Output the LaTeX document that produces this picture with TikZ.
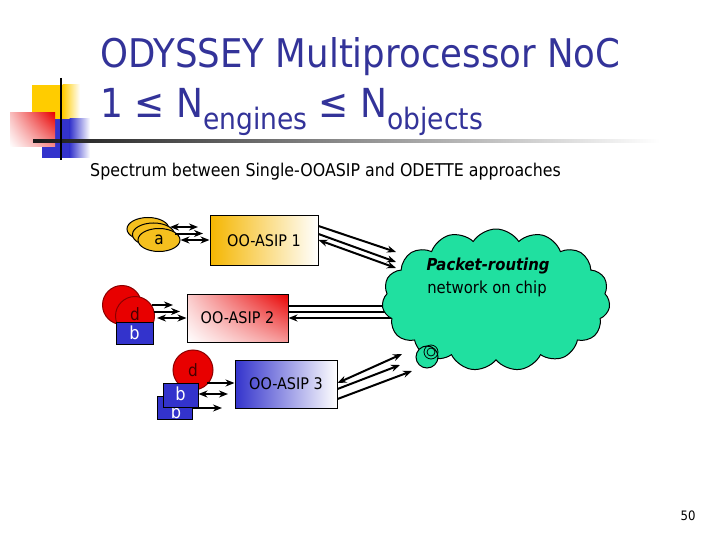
\documentclass[tikz,border=0pt]{standalone}
\usepackage{fontspec}
\setmainfont{DejaVu Sans}[FakeStretch=0.9]
\usetikzlibrary{shapes.geometric,shapes.symbols,arrows.meta,calc,shadings}
\definecolor{ttl}{RGB}{51,51,153}
\definecolor{gold}{RGB}{245,192,30}
\definecolor{asipy}{RGB}{245,182,0}
\definecolor{rd}{RGB}{232,0,0}
\definecolor{rdline}{RGB}{140,0,0}
\definecolor{bl}{RGB}{51,51,204}
\definecolor{noc}{RGB}{32,224,160}
\definecolor{decoy}{RGB}{255,204,0}
\definecolor{dtext}{RGB}{70,0,0}
\tikzset{
  txt/.style={inner sep=0pt},
  tip/.tip={Stealth[length=9pt,width=7pt]},
  arr/.style={line width=2pt,-tip},
  darr/.style={line width=2pt,tip-tip},
  larr/.style={line width=2pt,tip-},
  plain/.style={line width=2pt},
  asip/.style={draw, line width=1pt, inner sep=0pt, font=\fontsize{16}{18}\selectfont},
  aell/.style={ellipse, draw, line width=1pt, fill=gold, minimum width=42pt, minimum height=23pt, inner sep=0pt},
  dcirc/.style={circle, draw=rdline, line width=1pt, fill=rd, minimum size=39pt, inner sep=0pt, text=dtext, font=\fontsize{17}{19}\selectfont},
  bbox/.style={draw, line width=1pt, fill=bl, inner sep=0pt, text=white, font=\fontsize{18}{20}\selectfont},
}
\begin{document}
\begin{tikzpicture}[x=1pt,y=-1pt]
\useasboundingbox (0,0) rectangle (720,540);
\fill[white] (0,0) rectangle (720,540);
% decoration
\fill[decoy] (32,85) rectangle (63,120);
\shade[left color=decoy, right color=white] (62.5,85) rectangle (80,120);
\fill[bl] (42,119) rectangle (70,158);
\shade[left color=bl, right color=white] (69.5,119) rectangle (90,158);
\shade[upper right=rd, upper left=rd!25, lower right=rd!45, lower left=white] (10,113) rectangle (55,147);
\shade[left color=black!90, right color=white] (33,139.5) rectangle (660,142.5);
\draw[line width=2.5pt] (61,78) -- (61,160);
% titles
\node[txt, anchor=base west, text=ttl, font=\fontsize{39.5}{42}\selectfont] (t1) at (100,68) {ODYSSEY Multiprocessor NoC};
\node[txt, anchor=base west, text=ttl, font=\fontsize{40}{42}\selectfont] (t2) at (100,118)
  {1 ≤ N\raisebox{-12pt}{\fontsize{29.5}{31}\selectfont engines} ≤ N\raisebox{-12pt}{\fontsize{29.5}{31}\selectfont objects}};
\node[txt, anchor=base west, font=\fontsize{17.6}{19}\selectfont] (sub) at (90,177) {Spectrum between Single-OOASIP and ODETTE approaches};
% ASIP 1 group
\node[aell] (a3) at (148,229) {};
\node[aell] (a2) at (153.5,234.5) {};
\node[aell, font=\fontsize{17}{19}\selectfont] (a1) at (159,240) {a};
\node[asip, minimum width=108pt, minimum height=49pt, left color=asipy, right color=white] (p1) at (264,240.5) {OO-ASIP 1};
% ASIP 2 group
\node[dcirc] (d2b) at (122,305) {};
\node[dcirc, text depth=0pt, text height=9pt] (d2) at (135,316) {d};
\node[bbox, minimum width=37pt, minimum height=22pt] (b2) at (134.5,333) {b};
\node[asip, minimum width=101pt, minimum height=48pt, upper right=rd, upper left=rd!20, lower right=rd!40, lower left=white] (p2) at (237.5,318) {OO-ASIP 2};
% ASIP 3 group
\node[dcirc, minimum size=40pt] (d3) at (193,370) {d};
\node[bbox, minimum width=35pt, minimum height=23pt, anchor=south] (b3b) at (174.5,420) {};
\node[txt, text=white, font=\fontsize{18}{20}\selectfont, anchor=base] (b3bt) at (176,418.5) {b};
\node[bbox, minimum width=35pt, minimum height=24pt, text depth=0pt, text height=10pt] (b3) at (180.5,395) {b};
\node[asip, minimum width=102pt, minimum height=48pt, left color=bl, right color=white] (p3) at (286,384) {OO-ASIP 3};
% lines from ASIP 2 into the network (drawn under the cloud)
\coordinate (n2a) at (396,306);
\coordinate (n2b) at (396,312);
\coordinate (n2c) at (396,318);
\draw[plain] (p2.east |- n2a) -- (n2a);
\draw[plain] (p2.east |- n2b) -- (n2b);
\draw[larr] (p2.east |- n2c) -- (n2c);
% cloud
\node[cloud, draw, line width=1pt, fill=noc, cloud puffs=15, cloud puff arc=115, aspect=1.6,
      minimum width=228pt, minimum height=142pt, inner sep=0pt] (noc) at (496,300) {};
\node[circle, draw, line width=1pt, fill=noc, minimum size=22pt, inner sep=0pt] (bub) at (427,357) {};
\node[circle, draw, line width=0.8pt, minimum size=14pt, inner sep=0pt] (ring) at (431,352) {};
\node[circle, draw, line width=0.8pt, minimum size=8pt, inner sep=0pt] (ring2) at (431,352) {};
\node[txt, font=\fontsize{16.5}{18}\selectfont\bfseries\itshape] (nt1) at (488,266) {Packet-routing};
\node[txt, font=\fontsize{16.5}{18}\selectfont] (nt2) at (487,289) {network on chip};
% arrows a -> ASIP 1
\draw[darr] (170,227) -- (198,227);
\draw[arr] (175,233.5) -- (203,233.5);
\draw[darr] (a1.east) -- (a1.east -| p1.west);
% ASIP 1 -> network
\coordinate (n1a) at (396,252);
\coordinate (n1b) at (396,262);
\coordinate (n1c) at (396,268);
\draw[arr] (p1.east |- 0,226) -- (n1a);
\draw[arr] (p1.east |- 0,234) -- (n1b);
\draw[darr] (p1.east |- 0,240) -- (n1c);
% d/b -> ASIP 2
\draw[arr] (152,305) -- (173,305);
\draw[arr] (154,311.5) -- (180,311.5);
\draw[darr] (157,318) -- (p2.west |- 0,318);
% d/b -> ASIP 3
\draw[arr] (207,383) -- (p3.west |- 0,383);
\draw[darr] (b3.east |- 0,394) -- (228,394);
\draw[arr] (b3b.east |- 0,408) -- (222,408);
% ASIP 3 -> network
\coordinate (n3a) at (402,354);
\coordinate (n3b) at (400,365);
\coordinate (n3c) at (412,371);
\draw[darr] (p3.east |- 0,383) -- (n3a);
\draw[arr] (p3.east |- 0,389) -- (n3b);
\draw[arr] (p3.east |- 0,399) -- (n3c);
% page number
\node[txt, font=\fontsize{13}{15}\selectfont] (pg) at (688,516) {50};
\end{tikzpicture}
\end{document}
